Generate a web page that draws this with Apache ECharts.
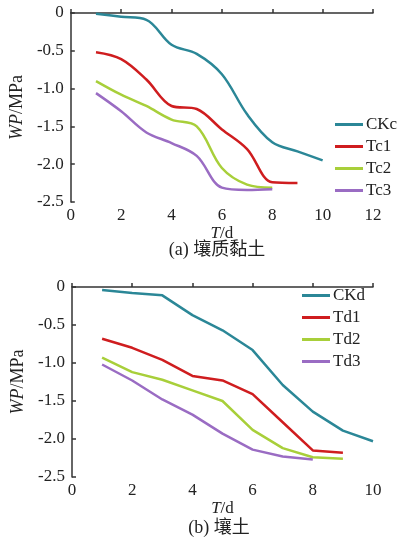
<!doctype html>
<html>
<head>
<meta charset="utf-8" />
<script src="https://cdn.jsdelivr.net/npm/echarts@6/dist/echarts.min.js"></script>
<style>
html, body { margin: 0; padding: 0; background: #fff; }
#chart { width: 398px; height: 544px; }
</style>
</head>
<body>
<div id="chart"></div>
<script>
// (a) loam clay
var daysA = [1, 2, 3, 4, 5, 6, 7, 8, 9, 10];
var CKc = [-0.01, -0.05, -0.09, -0.42, -0.54, -0.81, -1.34, -1.71, -1.83, -1.95];
var Tc1 = [-0.52, -0.61, -0.88, -1.23, -1.27, -1.54, -1.80, -2.24, -2.25];
var Tc2 = [-0.90, -1.08, -1.23, -1.41, -1.50, -2.05, -2.27, -2.31];
var Tc3 = [-1.06, -1.30, -1.58, -1.72, -1.89, -2.31, -2.34, -2.33];

// (b) loam
var daysB = [1, 2, 3, 4, 5, 6, 7, 8, 9, 10];
var CKd = [-0.04, -0.08, -0.11, -0.37, -0.57, -0.83, -1.29, -1.64, -1.89, -2.03];
var Td1 = [-0.68, -0.80, -0.96, -1.17, -1.23, -1.41, -1.78, -2.15, -2.18];
var Td2 = [-0.93, -1.12, -1.22, -1.36, -1.50, -1.88, -2.12, -2.24, -2.26];
var Td3 = [-1.02, -1.23, -1.48, -1.68, -1.93, -2.14, -2.23, -2.27];

var colors = ['#2b8797', '#cf1d1f', '#a8cf3a', '#9a6cc3'];
var font = '"Liberation Serif", "Times New Roman", serif';
var cjkFont = '"Liberation Serif", "Noto Sans CJK SC", serif';

function pairs(xs, ys) {
    return ys.map(function (y, i) { return [xs[i], y]; });
}

function yFmt(v) {
    return v === 0 ? '0' : v.toFixed(1);
}

var axisCommon = {
    axisLine: { lineStyle: { color: '#333', width: 1.5 } },
    axisTick: { inside: true, length: 4, lineStyle: { color: '#333', width: 1.5 } },
    splitLine: { show: false }
};

var nameRich = {
    i: { fontStyle: 'italic', fontSize: 17, fontFamily: font, color: '#222' },
    n: { fontSize: 17, fontFamily: font, color: '#222' }
};

function xAxis(idx, max) {
    return Object.assign({}, axisCommon, {
        type: 'value', gridIndex: idx, min: 0, max: max, interval: 2,
        name: '{i|T}{n|/d}', nameLocation: 'middle', nameGap: 20,
        nameTextStyle: { rich: nameRich },
        axisLabel: { color: '#222', fontSize: 17, fontFamily: font, margin: 5 }
    });
}

function yAxis(idx) {
    return Object.assign({}, axisCommon, {
        type: 'value', gridIndex: idx, min: -2.5, max: 0, interval: 0.5,
        name: '{i|WP}{n|/MPa}', nameLocation: 'middle', nameGap: 37, nameRotate: 90,
        nameTextStyle: {
            rich: {
                i: { fontStyle: 'italic', fontSize: 18, fontFamily: font, color: '#222' },
                n: { fontSize: 18, fontFamily: font, color: '#222' }
            }
        },
        axisLabel: { color: '#222', fontSize: 17, fontFamily: font, margin: 7, formatter: yFmt }
    });
}

function line(name, idx, data, color, smooth) {
    return {
        type: 'line', name: name, xAxisIndex: idx, yAxisIndex: idx,
        data: data, smooth: smooth, symbol: 'none',
        lineStyle: { color: color, width: 2.5 },
        itemStyle: { color: color }
    };
}

function legend(names, left, top) {
    return {
        data: names, orient: 'vertical', left: left, top: top,
        icon: 'rect', itemWidth: 28, itemHeight: 3, itemGap: 5,
        textStyle: { color: '#222', fontSize: 17, fontFamily: font, padding: [0, 0, 0, -2] },
        selectedMode: false
    };
}

function caption(text, x, y) {
    return {
        type: 'text', x: x, y: y,
        style: { text: text, fill: '#222', font: '18px ' + cjkFont, textAlign: 'center', textVerticalAlign: 'middle' }
    };
}

var chart = echarts.init(document.getElementById('chart'));
chart.setOption({
    animation: false,
    color: colors,
    grid: [
        { left: 70, top: 13, width: 303, height: 189 },
        { left: 72, top: 287, width: 301, height: 190 }
    ],
    xAxis: [xAxis(0, 12), xAxis(1, 10)],
    yAxis: [yAxis(0), yAxis(1)],
    legend: [
        legend(['CKc', 'Tc1', 'Tc2', 'Tc3'], 330, 111),
        legend(['CKd', 'Td1', 'Td2', 'Td3'], 297, 282)
    ],
    graphic: [
        caption('(a) 壤质黏土', 217, 250),
        caption('(b) 壤土', 219, 528)
    ],
    series: [
        line('CKc', 0, pairs(daysA, CKc), colors[0], 0.35),
        line('Tc1', 0, pairs(daysA, Tc1), colors[1], 0.35),
        line('Tc2', 0, pairs(daysA, Tc2), colors[2], 0.35),
        line('Tc3', 0, pairs(daysA, Tc3), colors[3], 0.35),
        line('CKd', 1, pairs(daysB, CKd), colors[0], false),
        line('Td1', 1, pairs(daysB, Td1), colors[1], false),
        line('Td2', 1, pairs(daysB, Td2), colors[2], false),
        line('Td3', 1, pairs(daysB, Td3), colors[3], false)
    ]
});
</script>
</body>
</html>
